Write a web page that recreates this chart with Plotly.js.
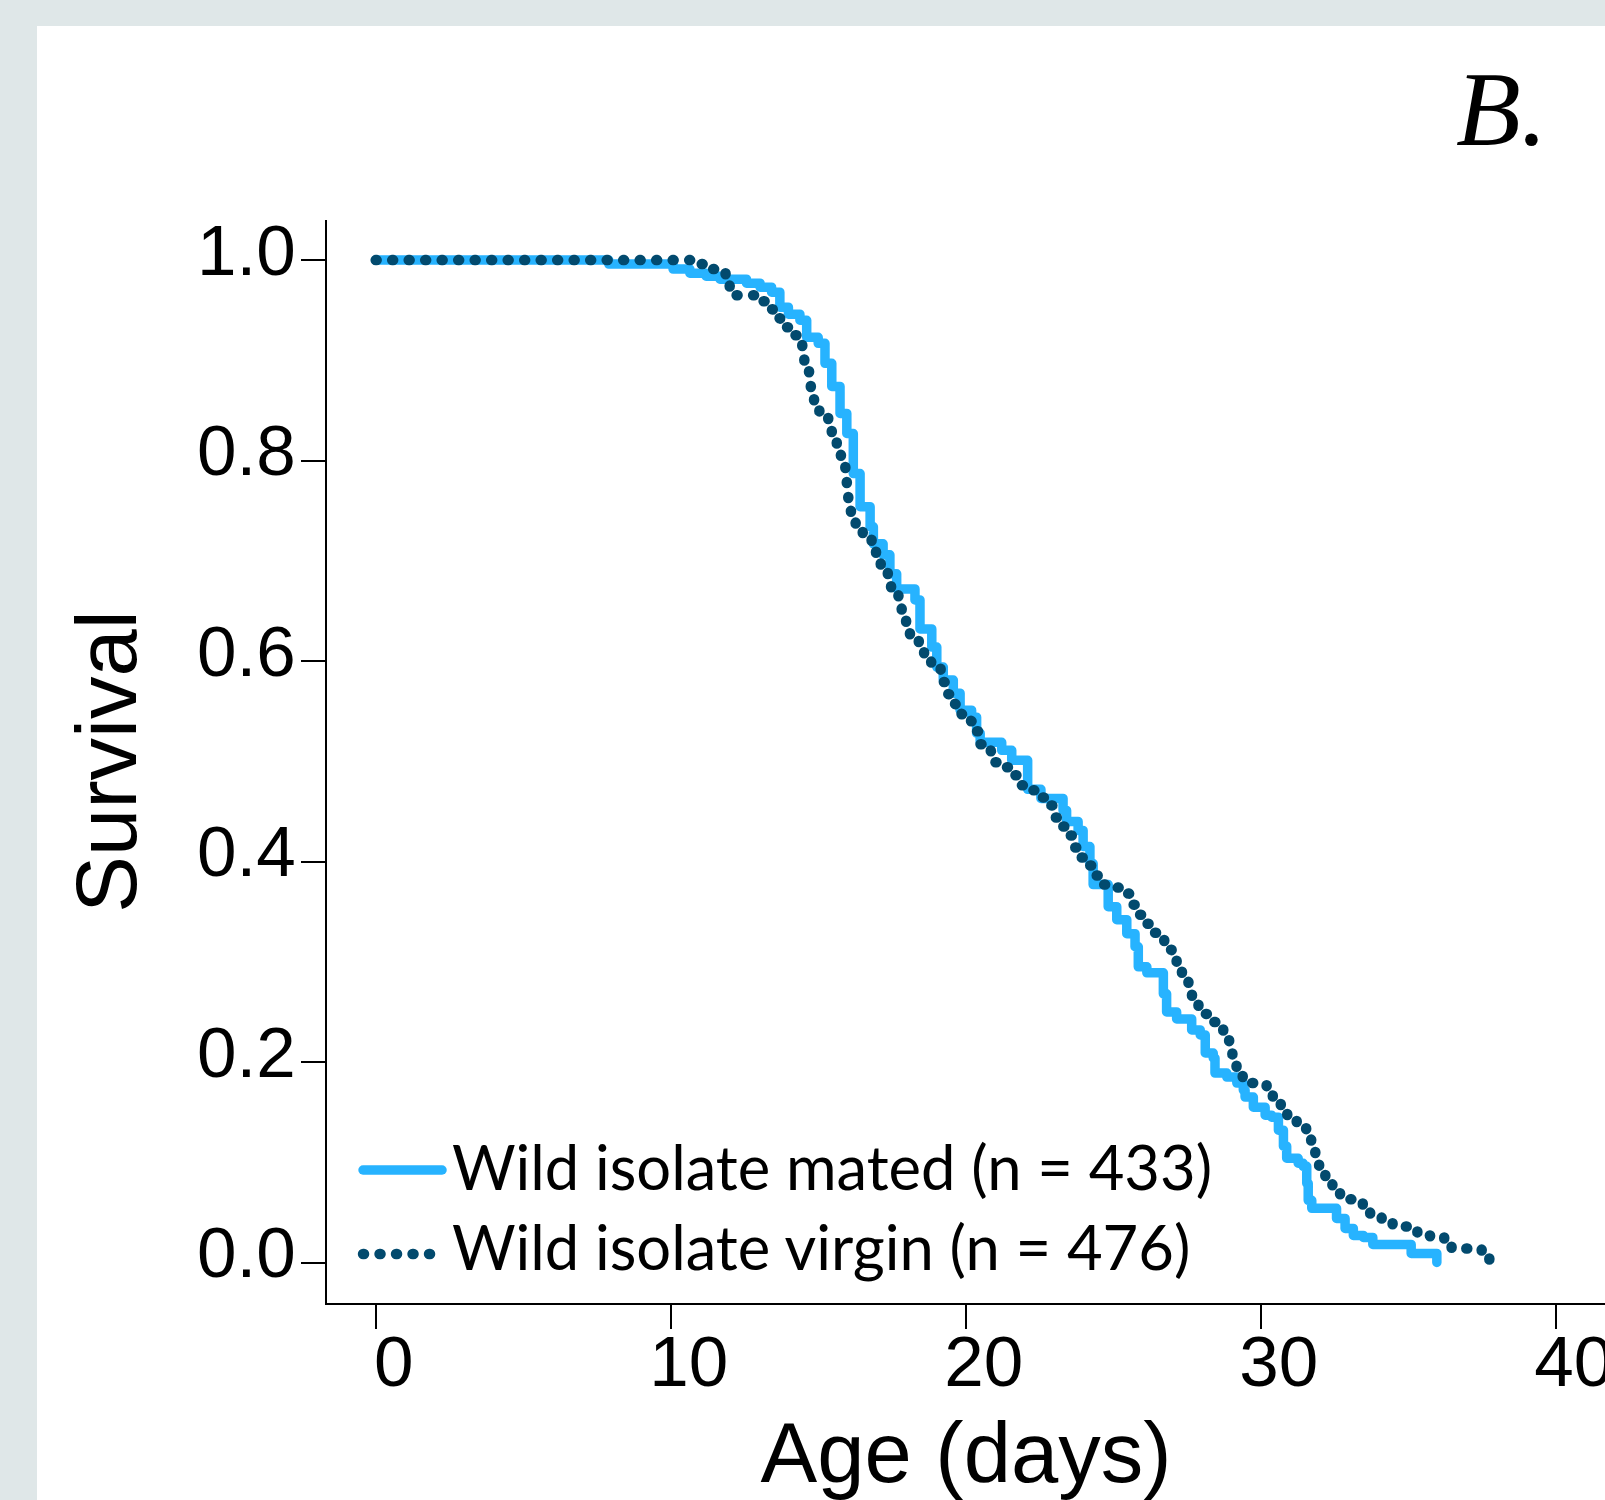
<!DOCTYPE html>
<html>
<head>
<meta charset="utf-8">
<script src="https://cdn.plot.ly/plotly-3.0.1.min.js"></script>
<style>
  html, body { margin: 0; padding: 0; background: #dfe7e8; width: 1605px; height: 1500px; overflow: hidden; }
  #chart { position: absolute; left: 37px; top: 26px; width: 1568px; height: 1474px; background: #ffffff; }
  .scatterlayer .js-line { stroke-linecap: round !important; stroke-linejoin: round !important; }
  .shapelayer path { stroke-linecap: round !important; }
</style>
</head>
<body>
<div id="chart"></div>
<script>
// Wild isolate mated (n = 433): Kaplan-Meier steps (day of event, survival after event)
const matedDays = [0, 7.9, 10.08, 10.65, 11.2, 11.67, 12.57, 13.03, 13.42, 13.7, 13.99, 14.38, 14.61, 15.0, 15.23, 15.46, 15.74, 15.97, 16.19, 16.42, 16.76, 16.87, 17.2, 17.43, 17.66, 18.28, 18.45, 18.85, 19.02, 19.24, 19.58, 19.81, 20.2, 20.37, 20.49, 21.22, 21.56, 22.1, 22.55, 23.3, 23.42, 23.81, 23.98, 24.21, 24.32, 24.83, 25.12, 25.46, 25.74, 25.85, 26.14, 26.7, 26.81, 27.15, 27.66, 27.95, 28.12, 28.39, 28.45, 28.85, 29.19, 29.41, 29.47, 29.75, 30.15, 30.37, 30.6, 30.77, 30.88, 31.27, 31.44, 31.56, 31.61, 31.73, 32.57, 32.86, 33.14, 33.48, 33.8, 35.1, 35.97];
const matedSurv = [1.0, 0.996, 0.991, 0.987, 0.984, 0.981, 0.977, 0.973, 0.968, 0.953, 0.946, 0.940, 0.923, 0.917, 0.897, 0.874, 0.847, 0.827, 0.787, 0.754, 0.734, 0.717, 0.706, 0.687, 0.672, 0.661, 0.632, 0.614, 0.594, 0.581, 0.568, 0.551, 0.544, 0.528, 0.519, 0.511, 0.501, 0.472, 0.463, 0.451, 0.440, 0.431, 0.415, 0.398, 0.377, 0.355, 0.342, 0.328, 0.315, 0.295, 0.289, 0.268, 0.250, 0.243, 0.232, 0.227, 0.209, 0.204, 0.189, 0.185, 0.179, 0.172, 0.165, 0.155, 0.147, 0.145, 0.132, 0.116, 0.104, 0.099, 0.096, 0.079, 0.062, 0.054, 0.044, 0.034, 0.027, 0.025, 0.018, 0.009, 0.0];

// Wild isolate virgin (n = 476)
const virginDays = [0, 10.86, 11.28, 11.64, 11.86, 12.0, 12.91, 13.2, 13.46, 13.71, 14.01, 14.32, 14.46, 14.53, 14.69, 14.75, 14.86, 15.04, 15.34, 15.46, 15.63, 15.77, 15.92, 15.97, 16.02, 16.11, 16.27, 16.51, 16.81, 16.96, 17.12, 17.36, 17.47, 17.72, 17.83, 17.98, 18.11, 18.41, 18.59, 18.83, 19.15, 19.26, 19.41, 19.64, 19.86, 20.18, 20.37, 20.49, 20.85, 20.97, 21.33, 21.65, 21.84, 22.24, 22.54, 22.83, 22.97, 23.23, 23.48, 23.63, 23.82, 24.08, 24.34, 24.58, 24.98, 25.34, 25.54, 25.74, 25.99, 26.25, 26.62, 26.73, 26.98, 27.15, 27.33, 27.55, 27.67, 27.89, 28.19, 28.6, 28.73, 28.93, 29.04, 29.18, 29.39, 30.2, 30.41, 30.68, 30.9, 31.22, 31.54, 31.71, 31.85, 31.98, 32.19, 32.43, 32.69, 33.09, 33.46, 33.71, 34.1, 34.47, 34.95, 35.31, 35.74, 36.22, 36.47, 37.49, 37.75];
const virginSurv = [1.0, 0.996, 0.991, 0.987, 0.977, 0.965, 0.959, 0.951, 0.942, 0.933, 0.925, 0.919, 0.907, 0.893, 0.881, 0.866, 0.854, 0.843, 0.835, 0.823, 0.811, 0.800, 0.788, 0.773, 0.759, 0.746, 0.733, 0.724, 0.717, 0.705, 0.693, 0.684, 0.671, 0.662, 0.650, 0.638, 0.626, 0.618, 0.607, 0.598, 0.590, 0.579, 0.567, 0.557, 0.547, 0.540, 0.530, 0.517, 0.510, 0.499, 0.494, 0.486, 0.476, 0.471, 0.464, 0.456, 0.444, 0.435, 0.426, 0.414, 0.404, 0.396, 0.386, 0.377, 0.374, 0.368, 0.357, 0.347, 0.338, 0.329, 0.324, 0.312, 0.302, 0.291, 0.280, 0.270, 0.258, 0.248, 0.240, 0.236, 0.224, 0.214, 0.202, 0.189, 0.179, 0.169, 0.160, 0.151, 0.142, 0.135, 0.127, 0.116, 0.104, 0.092, 0.082, 0.073, 0.063, 0.059, 0.054, 0.045, 0.041, 0.036, 0.034, 0.027, 0.025, 0.023, 0.014, 0.011, 0.0];

const seriesNames = ['Wild isolate mated (n = 433)', 'Wild isolate virgin (n = 476)'];
const xTickVals = [0, 10, 20, 30, 40];
const yTickVals = [0, 0.2, 0.4, 0.6, 0.8, 1.0];
const yTickText = ['0.0', '0.2', '0.4', '0.6', '0.8', '1.0'];
const panelLabel = 'B.';
const xTitle = 'Age (days)';
const yTitle = 'Survival';

const matedColor = '#27b3ff';
const virginColor = '#024a6e';
const axisFont = 'Liberation Sans, Arial, sans-serif';
const legendFont = 'Lato, Noto Sans, sans-serif';

const traces = [
  {
    x: matedDays, y: matedSurv, type: 'scatter', mode: 'lines', name: seriesNames[0],
    line: { shape: 'hv', color: matedColor, width: 9.5 },
    hoverinfo: 'skip', showlegend: false
  },
  {
    x: virginDays, y: virginSurv, type: 'scatter', mode: 'lines', name: seriesNames[1],
    line: { shape: 'hv', color: virginColor, width: 10.5, dash: '1px,15.5px' },
    hoverinfo: 'skip', showlegend: false
  }
];

const layout = {
  width: 1568, height: 1474,
  paper_bgcolor: '#ffffff', plot_bgcolor: '#ffffff',
  margin: { l: 290, r: 0, t: 194, b: 197, pad: 0 },
  showlegend: false,
  xaxis: {
    range: [-1.65, 41.67], showgrid: false, zeroline: false,
    showline: true, linecolor: '#000', linewidth: 2,
    ticks: 'outside', ticklen: 24, tickwidth: 2, tickcolor: '#000',
    tickvals: xTickVals, ticklabelshift: 18, ticklabelstandoff: -28, ticklabeloverflow: 'allow',
    tickfont: { family: axisFont, size: 71, color: '#000' },
    title: { text: xTitle, font: { family: axisFont, size: 85, color: '#000' }, standoff: 36 }
  },
  yaxis: {
    range: [-0.0404, 1.04], showgrid: false, zeroline: false,
    showline: true, linecolor: '#000', linewidth: 2,
    ticks: 'outside', ticklen: 24, tickwidth: 2, tickcolor: '#000',
    tickvals: yTickVals, ticktext: yTickText, ticklabelshift: -10, ticklabelstandoff: -9,
    tickfont: { family: axisFont, size: 71, color: '#000' },
    title: { text: yTitle, font: { family: axisFont, size: 85, color: '#000' }, standoff: 32 }
  },
  shapes: [
    { type: 'line', xref: 'paper', yref: 'paper', x0: 0.0282, x1: 0.09, y0: 0.1228, y1: 0.1228,
      line: { color: matedColor, width: 9.5 } },
    { type: 'line', xref: 'paper', yref: 'paper', x0: 0.0282, x1: 0.0807, y0: 0.0452, y1: 0.0452,
      line: { color: virginColor, width: 10.5, dash: '1px,15.5px' } }
  ],
  annotations: [
    { text: seriesNames[0], xref: 'paper', yref: 'paper', x: 0.0962, y: 0.1265, xanchor: 'left', yanchor: 'middle',
      showarrow: false, font: { family: legendFont, size: 61.5, color: '#000' } },
    { text: seriesNames[1], xref: 'paper', yref: 'paper', x: 0.0962, y: 0.0526, xanchor: 'left', yanchor: 'middle',
      showarrow: false, font: { family: legendFont, size: 61.5, color: '#000' } },
    { text: '<i>' + panelLabel + '</i>', xref: 'paper', yref: 'paper', x: 0.9187, y: 1.046, xanchor: 'center', yanchor: 'bottom',
      showarrow: false, font: { family: 'Liberation Serif, Times New Roman, serif', size: 106, color: '#000' } }
  ]
};

Plotly.newPlot('chart', traces, layout, { displayModeBar: false, staticPlot: true });
</script>
</body>
</html>
